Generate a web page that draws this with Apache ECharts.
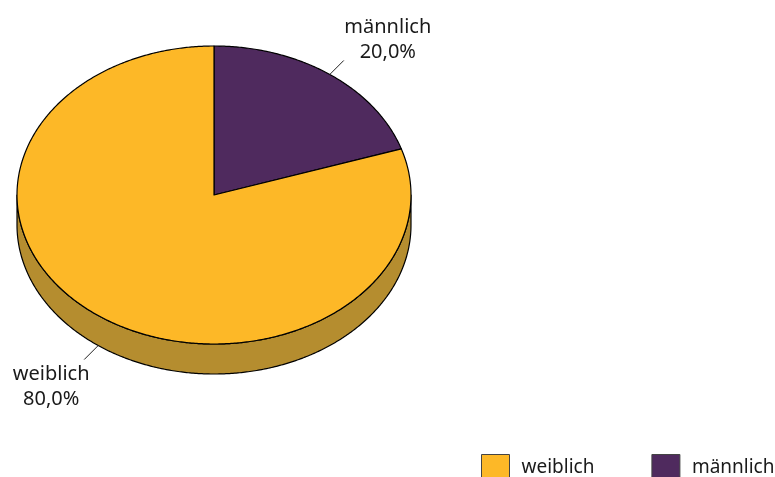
<!DOCTYPE html>
<html><head><meta charset="utf-8">
<style>html,body{margin:0;padding:0;background:#fff;overflow:hidden}#c{width:775px;height:477px}</style>
<script src="https://cdn.jsdelivr.net/npm/echarts@6/dist/echarts.min.js"></script>
</head><body><div id="c"></div>
<script>
const categories = ['männlich', 'weiblich'];
const values = [20.0, 80.0];
const pctLabels = ['20,0%', '80,0%'];
const colors = ['#4F2A5E', '#FDB827'];
const wallColors = ['#6B4A22', '#B58D2F'];

const FONT = '"Noto Sans", sans-serif';
const geo = {cx: 214, cy: 195, rx: 197, ry: 149, depth: 30};
const leaders = [{dx: 14, dy: -14, tx: 44, ty: -21}, {dx: -14, dy: 14, tx: -33, ty: 27}];
const total = values.reduce((a, b) => a + b, 0);

function pt(deg, dy) {
  const r = deg * Math.PI / 180;
  return [geo.cx + geo.rx * Math.sin(r), geo.cy - geo.ry * Math.cos(r) + (dy || 0)];
}
function arc(a, b, dy) {
  const out = [];
  const n = Math.max(2, Math.ceil(Math.abs(b - a) * 2));
  for (let i = 0; i <= n; i++) out.push(pt(a + (b - a) * i / n, dy));
  return out;
}
function makeRender(idx) {
  return function (params, api) {
    const val = api.value(0);
    const before = values.slice(0, idx).reduce((a, b) => a + b, 0);
    const a0 = before / total * 360, a1 = a0 + val / total * 360;
    const children = [];
    const w0 = Math.max(a0, 90), w1 = Math.min(a1, 270);
    const mid = (a0 + a1) / 2;
    if (w1 > w0) {
      children.push({type: 'polygon', shape: {points: arc(w0, w1, 0).concat(arc(w1, w0, geo.depth))},
        style: {fill: wallColors[idx], stroke: '#000', lineWidth: 1.2, lineJoin: 'round'}});
    }
    children.push({type: 'polygon', shape: {points: [[geo.cx, geo.cy]].concat(arc(a0, a1, 0))},
      style: {fill: colors[idx], stroke: '#000', lineWidth: 1.2, lineJoin: 'round'}});
    const lower = mid > 90 && mid < 270;
    const p = pt(mid, lower ? geo.depth : 0);
    const l = leaders[idx];
    const e = [p[0] + l.dx, p[1] + l.dy];
    children.push({type: 'line', shape: {x1: p[0], y1: p[1], x2: e[0], y2: e[1]},
      style: {stroke: '#222', lineWidth: 1}});
    children.push({type: 'text', style: {text: categories[idx] + '\n' + pctLabels[idx],
      x: e[0] + l.tx, y: e[1] + l.ty, align: 'center', verticalAlign: 'middle',
      fontFamily: FONT, fontSize: 20, lineHeight: 25, fill: '#1a1a1a'}});
    return {type: 'group', children};
  };
}
const series = categories.map((c, i) => ({
  type: 'custom', name: c, coordinateSystem: 'none', silent: true, animation: false,
  itemStyle: {color: colors[i]}, data: [[values[i]]], renderItem: makeRender(i)
}));
const chart = echarts.init(document.getElementById('c'), null, {renderer: 'canvas'});
chart.setOption({
  animation: false,
  backgroundColor: '#fff',
  legend: {
    data: ['weiblich', 'männlich'], left: 481, top: 454, icon: 'rect', orient: 'horizontal',
    itemWidth: 28, itemHeight: 26, itemGap: 57, padding: 0, selectedMode: false,
    itemStyle: {borderColor: '#444', borderWidth: 1},
    textStyle: {fontFamily: FONT, fontSize: 19, color: '#1a1a1a', padding: [2, 0, 0, 7]}
  },
  series
});
</script></body></html>
